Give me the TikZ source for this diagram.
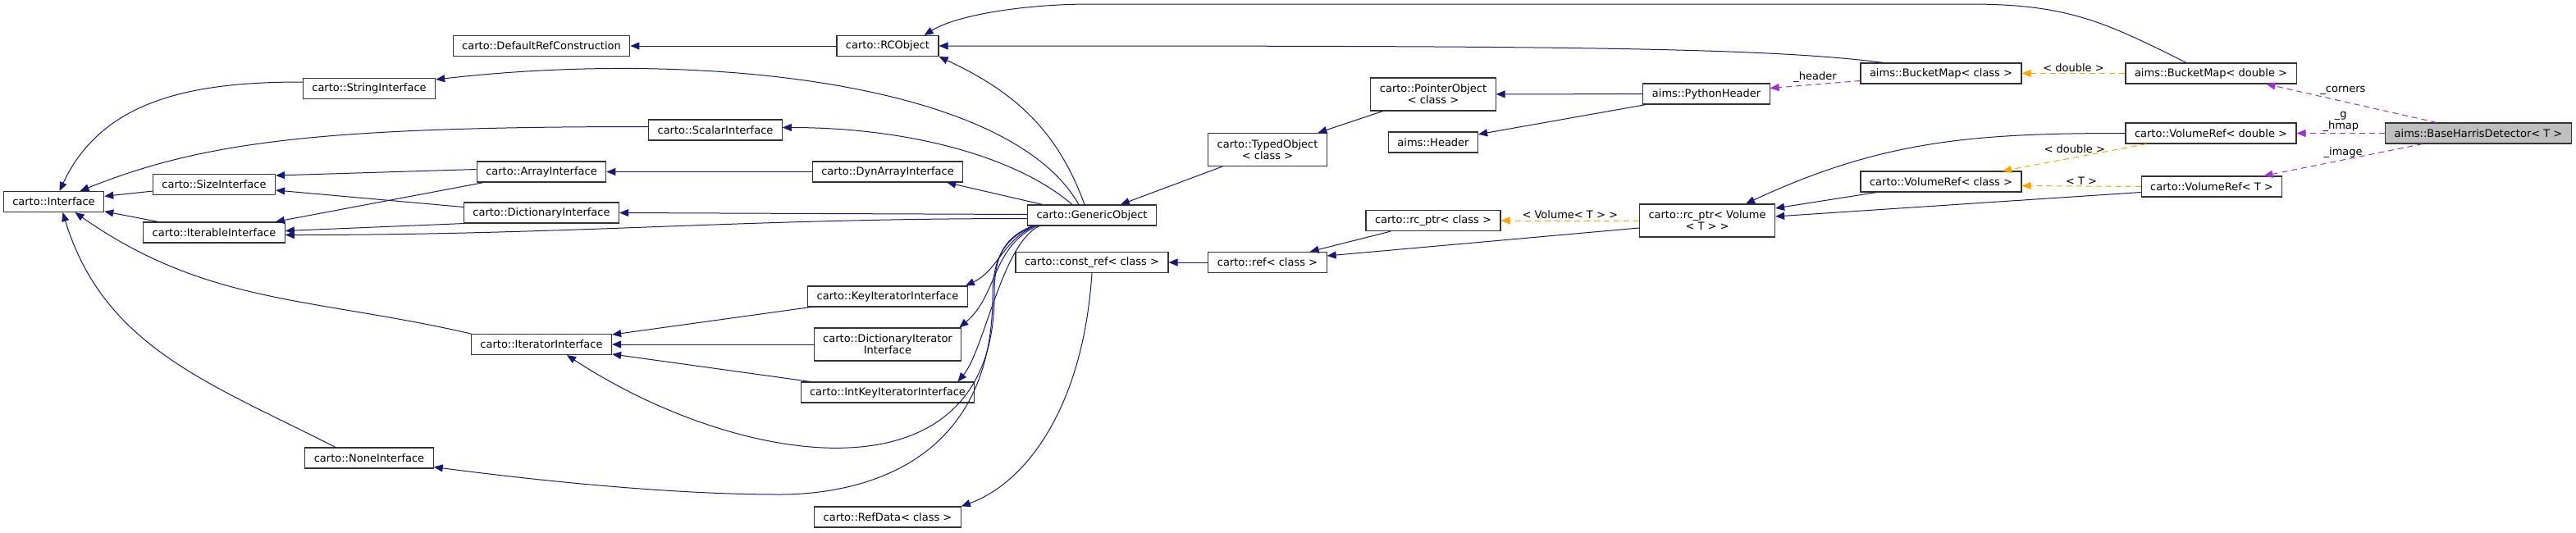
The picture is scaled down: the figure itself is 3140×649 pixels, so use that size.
\documentclass[tikz,border=0pt]{standalone}
\usepackage{fontspec}
\setmainfont{DejaVu Sans}
\usetikzlibrary{arrows.meta}
\definecolor{edgeblue}{HTML}{191970}
\definecolor{edgeorange}{HTML}{FFA500}
\definecolor{edgepurple}{HTML}{9A32CD}
\definecolor{nodegray}{HTML}{BFBFBF}
\begin{document}
\begin{tikzpicture}[x=1pt,y=1pt,>={Triangle[length=11pt,width=9pt]},
every node/.style={font=\fontsize{13}{14}\selectfont},
cls/.style={draw=black!80,line width=1.1pt,fill=white,inner xsep=11pt,inner ysep=0pt,minimum height=25pt,align=center},
twoline/.style={minimum height=40pt},
mainclass/.style={cls,fill=nodegray},
inh/.style={->,draw=edgeblue,line width=1pt},
tmpl/.style={->,draw=edgeorange,line width=1pt,dash pattern=on 7pt off 5pt},
usage/.style={->,draw=edgepurple,line width=1pt,dash pattern=on 7pt off 5pt},
lbl/.style={inner sep=1.5pt}]

\useasboundingbox (0,0) rectangle (3140,-649);

\node[cls] (iface) at (65.5,-246) {carto::Interface};
\node[cls] (strIf) at (450,-108) {carto::StringInterface};
\node[cls] (sizeIf) at (261,-225) {carto::SizeInterface};
\node[cls] (iterIf) at (261,-283.5) {carto::IterableInterface};
\node[cls] (noneIf) at (450,-558.5) {carto::NoneInterface};
\node[cls] (defRef) at (660,-56) {carto::DefaultRefConstruction};
\node[cls] (rcObj) at (1082,-56) {carto::RCObject};
\node[cls] (scalIf) at (872,-158.5) {carto::ScalarInterface};
\node[cls] (arrIf) at (660,-209.5) {carto::ArrayInterface};
\node[cls] (dynIf) at (1082,-209.5) {carto::DynArrayInterface};
\node[cls] (dictIf) at (660,-259.5) {carto::DictionaryInterface};
\node[cls] (keyIt) at (1082,-361.5) {carto::KeyIteratorInterface};
\node[cls] (itIf) at (660,-420) {carto::IteratorInterface};
\node[cls,twoline] (dictIt) at (1082,-420) {carto::DictionaryIterator\\Interface};
\node[cls] (intKeyIt) at (1082,-478.5) {carto::IntKeyIteratorInterface};
\node[cls] (refData) at (1082,-630.5) {carto::RefData< class >};
\node[cls] (genObj) at (1331,-262.5) {carto::GenericObject};
\node[cls,twoline] (typedObj) at (1545,-182.5) {carto::TypedObject\\< class >};
\node[cls] (constRef) at (1331,-320) {carto::const\_ref< class >};
\node[cls] (refC) at (1545,-320) {carto::ref< class >};
\node[cls,twoline] (ptrObj) at (1747,-115) {carto::PointerObject\\< class >};
\node[cls] (header) at (1747,-173.5) {aims::Header};
\node[cls] (rcPtr) at (1747,-269) {carto::rc\_ptr< class >};
\node[cls] (pyHeader) at (2080,-114.5) {aims::PythonHeader};
\node[cls,twoline] (rcPtrVol) at (2081,-269) {carto::rc\_ptr< Volume\\< T > >};
\node[cls] (bmClass) at (2366,-89.5) {aims::BucketMap< class >};
\node[cls] (bmDouble) at (2695,-89.5) {aims::BucketMap< double >};
\node[cls] (vrDouble) at (2695,-162.5) {carto::VolumeRef< double >};
\node[cls] (vrClass) at (2366,-221.5) {carto::VolumeRef< class >};
\node[cls] (vrT) at (2696,-227.5) {carto::VolumeRef< T >};
\node[mainclass] (harris) at (3021,-162.5) {aims::BaseHarrisDetector< T >};

\draw[inh] (sizeIf) -- (iface);
\draw[inh] (iterIf) -- (iface);
\draw[inh] ([yshift=8pt]strIf.west) to[out=180,in=65] ([xshift=7pt]iface.north);
\draw[inh] ([yshift=4pt]scalIf.west) .. controls +(-400,0) and +(150,60) .. ([xshift=32pt]iface.north);
\draw[inh] (itIf.north west) to[out=167,in=-35] ([xshift=26pt]iface.south);
\draw[inh] ([xshift=-41pt]noneIf.north) to[out=153,in=-73] ([xshift=11pt]iface.south);
\draw[inh] ([yshift=3pt]arrIf.west) -- ([yshift=11pt]sizeIf.east);
\draw[inh] ([yshift=7pt]dictIf.west) -- ([yshift=-7pt]sizeIf.east);
\draw[inh] ([xshift=9pt]arrIf.south west) -- ([xshift=-12pt]iterIf.north east);
\draw[inh] (dictIf.south west) -- ([yshift=2pt]iterIf.east);
\draw[inh] (dynIf) -- (arrIf);
\draw[inh] ([yshift=-4pt]genObj.west) to[out=180,in=0] ([yshift=-3pt]iterIf.east);
\draw[inh] ([yshift=1pt]genObj.west) -- (dictIf.east);
\draw[inh] ([xshift=19pt]genObj.north west) -- ([xshift=-20pt]dynIf.south east);
\draw[inh] ([xshift=-24pt]genObj.north) .. controls +(-70,60) and +(150,0) .. ([yshift=3pt]scalIf.east);
\draw[inh] ([xshift=-16pt]genObj.north) .. controls +(-85,150) and +(321,37) .. ([yshift=11pt]strIf.east);
\draw[inh] ([xshift=-9pt]genObj.north) to[out=110,in=-25] (rcObj.south east);
\draw[inh] (rcObj) -- (defRef);
\draw[inh] ([xshift=28pt]bmClass.north west) .. controls +(-150,20) and +(700,0) .. (rcObj.east);
\draw[inh] ([xshift=-30pt]bmDouble.north) .. controls +(-100,50) and +(120,0) .. (2400,-5) -- (1330,-5) .. controls +(-80,0) and +(40,25) .. ([xshift=-18pt]rcObj.north east);
\draw[inh] (keyIt) -- (itIf);
\draw[inh] (dictIt) -- (itIf);
\draw[inh] (intKeyIt) -- (itIf);
\draw[inh] ([xshift=9pt]genObj.south west) to[out=-155,in=25] ([xshift=-3pt]keyIt.north east);
\draw[inh] ([xshift=12pt]genObj.south west) to[out=-155,in=40] ([xshift=-3pt]dictIt.north east);
\draw[inh] ([xshift=15pt]genObj.south west) to[out=-155,in=50,looseness=0.6] ([xshift=-21pt]intKeyIt.north east);
\draw[inh] ([xshift=7pt]genObj.south west) .. controls +(-40,-15) and +(0,40) .. (1212,-360) .. controls +(0,-260) and +(209,-137) .. ([xshift=31pt]itIf.south);
\draw[inh] ([xshift=9pt]genObj.south west) .. controls +(-40,-15) and +(0,40) .. (1210,-360) .. controls +(0,-230) and +(60,0) .. (950,-603) .. controls +(-150,0) and +(92,-12) .. ([yshift=-11pt]noneIf.east);
\draw[inh] (refC) -- (constRef);
\draw[inh] (constRef.south) .. controls +(-11,-167) and +(77,28) .. (refData.north east);
\draw[inh] (typedObj) -- (genObj);
\draw[inh] (ptrObj) -- (typedObj);
\draw[inh] (pyHeader) -- (ptrObj);
\draw[inh] (pyHeader) -- (header);
\draw[inh] (rcPtr) -- (refC);
\draw[inh] ([yshift=-9pt]rcPtrVol.west) -- ([yshift=8pt]refC.east);
\draw[inh] (vrDouble.west) to[out=180,in=25] ([xshift=47pt]rcPtrVol.north);
\draw[inh] ([xshift=20pt]vrClass.south west) -- ([yshift=15pt]rcPtrVol.east);
\draw[inh] ([yshift=-7pt]vrT.west) -- ([yshift=5pt]rcPtrVol.east);

\draw[tmpl] (bmDouble) -- node[lbl,above] {< double >} (bmClass);
\draw[tmpl] ([xshift=26pt]vrDouble.south west) -- node[lbl,above=3pt] {< double >} ([xshift=75pt]vrClass.north);
\draw[tmpl] (vrT.west) -- node[lbl,above] {< T >} ([yshift=-5pt]vrClass.east);
\draw[tmpl] (rcPtrVol) -- node[lbl,above] {< Volume< T > >} (rcPtr);

\draw[usage] ([yshift=-9pt]bmClass.west) -- node[lbl,above] {\_header} ([yshift=7pt]pyHeader.east);
\draw[usage] ([xshift=-51pt]harris.north) -- node[lbl,above=6pt,pos=0.55] {\_corners} ([xshift=-37pt]bmDouble.south east);
\draw[usage] (harris.west) -- node[lbl,above,align=center] {\_g\\\_hmap} (vrDouble.east);
\draw[usage] ([xshift=-68pt]harris.south) -- node[lbl,above] {\_image} ([xshift=-23pt]vrT.north east);

\end{tikzpicture}
\end{document}
